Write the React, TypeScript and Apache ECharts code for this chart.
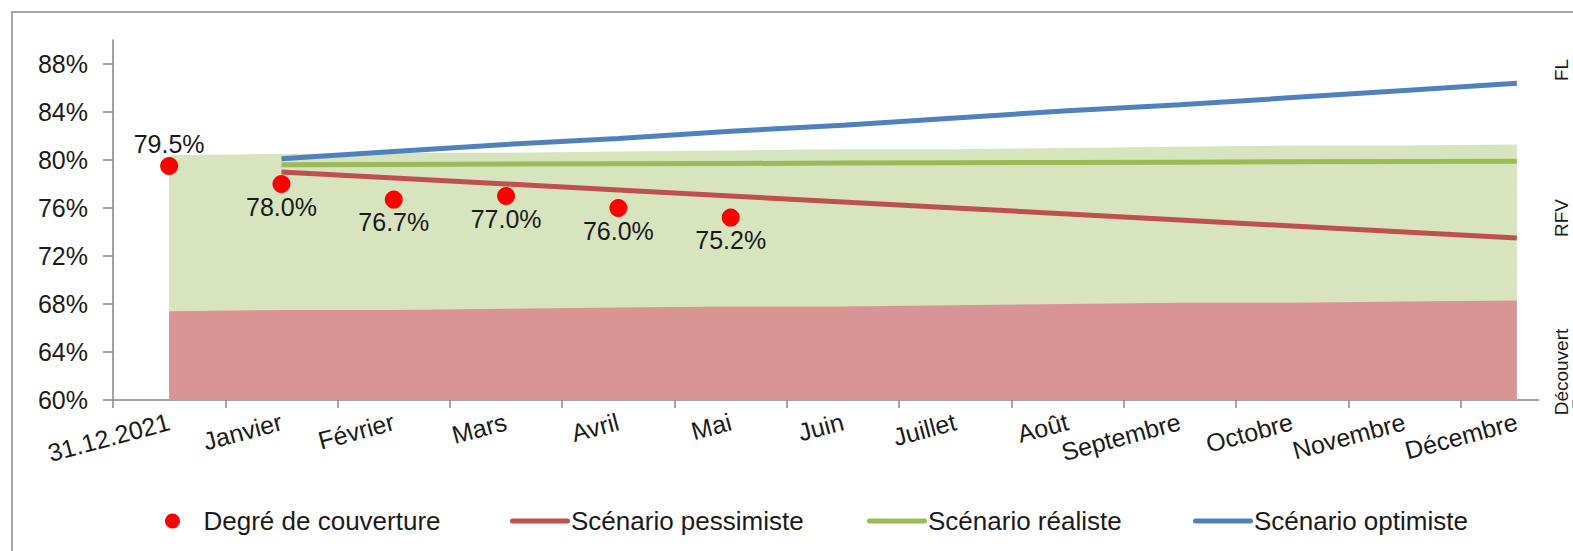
import React, { useEffect, useRef } from "react";
import * as echarts from "echarts";

const categories = [
  "31.12.2021", "Janvier", "Février", "Mars", "Avril", "Mai", "Juin",
  "Juillet", "Août", "Septembre", "Octobre", "Novembre", "Décembre",
];
const yTicks = [60, 64, 68, 72, 76, 80, 84, 88];

const coverage = [79.5, 78.0, 76.7, 77.0, 76.0, 75.2];
const pessimistic = [null, 79.0, 78.5, 78.0, 77.5, 77.0, 76.5, 76.0, 75.5, 75.0, 74.5, 74.0, 73.5];
const realistic = [null, 79.6, 79.63, 79.66, 79.69, 79.71, 79.74, 79.77, 79.8, 79.82, 79.85, 79.88, 79.9];
const optimistic = [null, 80.1, 80.7, 81.3, 81.8, 82.4, 82.9, 83.5, 84.1, 84.6, 85.2, 85.8, 86.4];
const rfvTop = [80.4, 80.5, 80.6, 80.6, 80.7, 80.8, 80.9, 80.9, 81.0, 81.1, 81.2, 81.2, 81.3];
const decouvertTop = [67.4, 67.5, 67.5, 67.6, 67.7, 67.8, 67.8, 67.9, 68.0, 68.1, 68.1, 68.2, 68.3];
const zoneLabels = ["FL", "RFV", "Découvert"];
const legendNames = ["Degré de couverture", "Scénario pessimiste", "Scénario réaliste", "Scénario optimiste"];

const FONT = "'Liberation Sans', Arial, sans-serif";
const TXT = "#1a1a1a";
const LINE_ICON = "path://M2.5,0H57.5A2.5,2.5,0,0,1,57.5,5H2.5A2.5,2.5,0,0,1,2.5,0Z";

export default function App() {
  const ref = useRef<HTMLDivElement>(null);
  useEffect(() => {
    if (!ref.current) return;
    const chart = echarts.init(ref.current, null, { renderer: "svg" });
    const zoneY = [70, 218, 372];
    const legendLeft = [160, 505, 862, 1188];
    chart.setOption({
      animation: false,
      textStyle: { fontFamily: FONT },
      grid: { left: 113, top: 40, width: 1462, height: 360, containLabel: false },
      legend: legendNames.map((n, i) => ({
        left: legendLeft[i],
        top: 503,
        itemWidth: 60,
        itemHeight: i === 0 ? 15 : 14,
        symbolKeepAspect: true,
        textStyle: { fontSize: 26, color: TXT, fontFamily: FONT, padding: [0, 0, 0, -4] },
        data: [{ name: n, icon: i === 0 ? "circle" : LINE_ICON }],
      })),
      xAxis: {
        type: "category",
        data: categories,
        boundaryGap: true,
        axisLine: { show: false },
        axisTick: { show: true, length: 8, lineStyle: { color: "#868686", width: 1.5 } },
        axisLabel: {
          interval: 0,
          rotate: 15,
          margin: 21,
          fontSize: 25,
          color: TXT,
          fontFamily: FONT,
        },
        splitLine: { show: false },
      },
      yAxis: {
        type: "value",
        min: 60,
        max: 90,
        axisLine: { show: true, lineStyle: { color: "#868686", width: 1.5 } },
        axisTick: {
          show: true,
          length: 10,
          customValues: yTicks,
          lineStyle: { color: "#868686", width: 1.5 },
        },
        axisLabel: {
          customValues: yTicks,
          margin: 25,
          fontSize: 25,
          color: TXT,
          fontFamily: FONT,
          formatter: (v: number) => `${v}%`,
        },
        splitLine: { show: false },
      },
      series: [
        {
          name: "RFV",
          type: "line",
          data: rfvTop,
          symbol: "none",
          lineStyle: { width: 0 },
          areaStyle: { color: "#D7E4BD", opacity: 1 },
          z: 1,
        },
        {
          name: "Découvert",
          type: "line",
          data: decouvertTop,
          symbol: "none",
          lineStyle: { width: 0 },
          areaStyle: { color: "#D99594", opacity: 1 },
          z: 2,
        },
        {
          name: "Scénario pessimiste",
          type: "line",
          data: pessimistic,
          symbol: "none",
          itemStyle: { color: "#C0504D" },
          lineStyle: { width: 5, color: "#C0504D" },
          z: 3,
        },
        {
          name: "Scénario réaliste",
          type: "line",
          data: realistic,
          symbol: "none",
          itemStyle: { color: "#9BBB59" },
          lineStyle: { width: 5, color: "#9BBB59" },
          z: 3,
        },
        {
          name: "Scénario optimiste",
          type: "line",
          data: optimistic,
          symbol: "none",
          itemStyle: { color: "#4F81BD" },
          lineStyle: { width: 5, color: "#4F81BD" },
          z: 3,
        },
        {
          name: "Degré de couverture",
          type: "scatter",
          symbol: "circle",
          symbolSize: 18,
          itemStyle: { color: "#FF0000", opacity: 1 },
          data: coverage.map((v, i) => ({
            value: v,
            label: { position: i === 0 ? "top" : "bottom" },
          })),
          label: {
            show: true,
            distance: 1,
            fontSize: 25,
            color: TXT,
            fontFamily: FONT,
            formatter: (p: any) => `${Number(p.value).toFixed(1)}%`,
          },
          z: 5,
        },
      ],
      graphic: [
        {
          type: "rect",
          shape: { x: 12, y: 12, width: 1640, height: 620 },
          style: { fill: "none", stroke: "#a6a6a6", lineWidth: 2 },
          silent: true,
        },
        {
          type: "line",
          shape: { x1: 113, y1: 400, x2: 1539, y2: 400 },
          style: { stroke: "#868686", lineWidth: 1.5 },
          silent: true,
        },
        ...zoneLabels.map((t, i) => ({
          type: "text",
          x: 1561,
          y: zoneY[i],
          rotation: Math.PI / 2,
          style: {
            text: t,
            fontSize: 19,
            fontFamily: FONT,
            fill: TXT,
            align: "center",
            verticalAlign: "middle",
          },
          silent: true,
        })),
      ],
    });
    return () => chart.dispose();
  }, []);
  return (
    <div
      ref={ref}
      style={{ position: "absolute", left: 0, top: 0, width: 1573, height: 551, background: "#fff" }}
    />
  );
}
